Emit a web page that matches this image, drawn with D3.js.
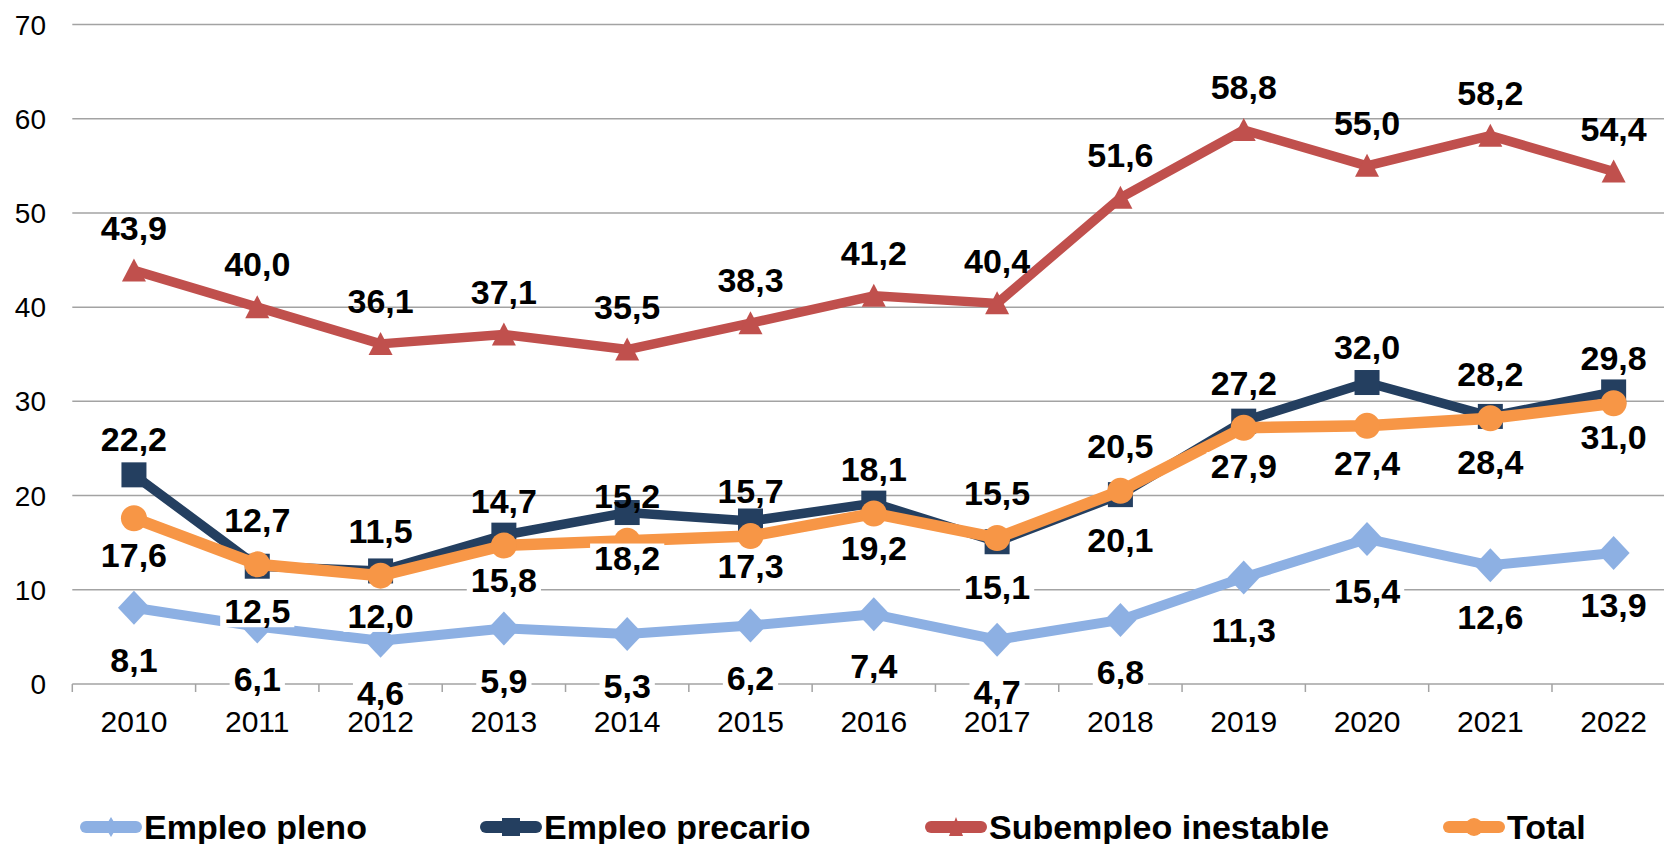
<!DOCTYPE html>
<html>
<head>
<meta charset="utf-8">
<script src="https://cdn.jsdelivr.net/npm/d3@7/dist/d3.min.js"></script>
<style>
  body { margin: 0; background: #fff; }
  svg text { font-family: "Liberation Sans", Arial, Helvetica, sans-serif; }
</style>
</head>
<body>
<div id="chart"></div>
<script>
// DATA
const years = ["2010", "2011", "2012", "2013", "2014", "2015", "2016", "2017", "2018", "2019", "2020", "2021", "2022"];
const empleoPleno = [8.1, 6.1, 4.6, 5.9, 5.3, 6.2, 7.4, 4.7, 6.8, 11.3, 15.4, 12.6, 13.9];
const empleoPrecario = [22.2, 12.5, 12.0, 15.8, 18.2, 17.3, 19.2, 15.1, 20.1, 27.9, 32.0, 28.4, 31.0];
const subempleoInestable = [43.9, 40.0, 36.1, 37.1, 35.5, 38.3, 41.2, 40.4, 51.6, 58.8, 55.0, 58.2, 54.4];
const total = [17.6, 12.7, 11.5, 14.7, 15.2, 15.7, 18.1, 15.5, 20.5, 27.2, 27.4, 28.2, 29.8];
const yTicks = [0, 10, 20, 30, 40, 50, 60, 70];
const seriesNames = ["Empleo pleno", "Empleo precario", "Subempleo inestable", "Total"];

var width = 1664, height = 844;

var svg = d3.select("#chart")
  .append("svg")
  .attr("width", width)
  .attr("height", height);

var x = d3.scalePoint().domain(years).range([72.3, 1675.3]).padding(0.5);
var step = x.step();
var y = d3.scaleLinear().domain([0, 70]).range([684, 24.5]);

// precario label goes above only where it clearly sits over the total line
function precarioUp(i) {
  return empleoPrecario[i] - total[i] > 4;
}

var diamond = "M0,-17L16,0L0,17L-16,0Z";

var series = [
  { name: seriesNames[0], values: empleoPleno, color: "#8DB0E3", width: 10, marker: "diamond",
    dy: function () { return 52; }, box: true },
  { name: seriesNames[1], values: empleoPrecario, color: "#243F60", width: 9.5, marker: "square",
    dy: function (i) { return precarioUp(i) ? -36 : 45; }, box: true },
  { name: seriesNames[2], values: subempleoInestable, color: "#C0504D", width: 9.5, marker: "triangle",
    dy: function () { return -43; }, box: false },
  { name: seriesNames[3], values: total, color: "#F79646", width: 11.5, marker: "circle",
    dy: function (i) { return precarioUp(i) ? 37 : -45; }, box: false },
];

// GRID
svg.append("g")
  .selectAll("line")
  .data(yTicks.filter(function (d) { return d > 0; }))
  .enter()
  .append("line")
  .attr("x1", 72.3)
  .attr("x2", width)
  .attr("y1", function (d) { return y(d); })
  .attr("y2", function (d) { return y(d); })
  .attr("stroke", "#A3A3A3")
  .attr("stroke-width", 1.5);

// X AXIS
var axisG = svg.append("g").attr("transform", `translate(0, ${y(0)})`);
axisG.append("line")
  .attr("x1", 72.3)
  .attr("x2", width)
  .attr("stroke", "#A3A3A3")
  .attr("stroke-width", 1.5);
axisG.selectAll(".tick")
  .data(years)
  .enter()
  .append("line")
  .attr("x1", function (d) { return x(d) - step / 2; })
  .attr("x2", function (d) { return x(d) - step / 2; })
  .attr("y1", 0)
  .attr("y2", 8)
  .attr("stroke", "#A3A3A3")
  .attr("stroke-width", 1.5);

// LINES + MARKERS
var line = d3.line()
  .x(function (d, i) { return x(years[i]); })
  .y(function (d) { return y(d); });

series.forEach(function (s) {
  var g = svg.append("g").attr("class", "series");
  g.append("path")
    .attr("d", line(s.values))
    .attr("fill", "none")
    .attr("stroke", s.color)
    .attr("stroke-width", s.width)
    .attr("stroke-linejoin", "round");

  var m = g.selectAll(".marker")
    .data(s.values)
    .enter()
    .append("g")
    .attr("transform", function (d, i) { return `translate(${x(years[i])}, ${y(d)})`; });

  if (s.marker === "circle") {
    m.append("circle").attr("r", 13).attr("fill", s.color);
  } else if (s.marker === "square") {
    m.append("rect").attr("x", -12.5).attr("y", -12.5).attr("width", 25).attr("height", 25).attr("fill", s.color);
  } else if (s.marker === "triangle") {
    m.append("path").attr("d", "M0,-12L12,11L-12,11Z").attr("fill", s.color);
  } else {
    m.append("path").attr("d", diamond).attr("fill", s.color);
  }
});

// DATA LABELS
var fmt = function (v) { return d3.format(".1f")(v).replace(".", ","); };

series.forEach(function (s) {
  var lg = svg.append("g").attr("class", "labels");
  s.values.forEach(function (v, i) {
    var cx = x(years[i]);
    var cy = y(v) + s.dy(i);
    var one = lg.append("g");
    var t = one.append("text")
      .attr("x", cx)
      .attr("y", cy + 12.2)
      .attr("text-anchor", "middle")
      .attr("font-size", 34)
      .attr("font-weight", "bold")
      .attr("fill", "#000")
      .text(fmt(v));
    if (s.box) {
      var bb = t.node().getBBox();
      one.insert("rect", "text")
        .attr("x", bb.x - 4)
        .attr("y", cy - 14)
        .attr("width", bb.width + 8)
        .attr("height", 30)
        .attr("fill", "#fff");
    }
  });
});

// TICK LABELS
svg.append("g")
  .selectAll("text")
  .data(years)
  .enter()
  .append("text")
  .attr("x", function (d) { return x(d); })
  .attr("y", 731.5)
  .attr("text-anchor", "middle")
  .attr("font-size", 30)
  .attr("fill", "#000")
  .text(function (d) { return d; });

svg.append("g")
  .selectAll("text")
  .data(yTicks)
  .enter()
  .append("text")
  .attr("x", 46)
  .attr("y", function (d) { return y(d) + 10; })
  .attr("text-anchor", "end")
  .attr("font-size", 28)
  .attr("fill", "#000")
  .text(function (d) { return d; });

// LEGEND
var legendX = [80, 480, 925, 1443];
var legend = svg.append("g").attr("class", "legend");
series.forEach(function (s, i) {
  var lx = legendX[i];
  var item = legend.append("g").attr("transform", `translate(${lx}, 827)`);
  item.append("line")
    .attr("x1", 6)
    .attr("x2", 56)
    .attr("stroke", s.color)
    .attr("stroke-width", 12)
    .attr("stroke-linecap", "round");
  var mk = item.append("g").attr("transform", "translate(31, 0)");
  if (s.marker === "circle") {
    mk.append("circle").attr("r", 9).attr("fill", s.color);
  } else if (s.marker === "square") {
    mk.append("rect").attr("x", -9).attr("y", -9).attr("width", 18).attr("height", 18).attr("fill", s.color);
  } else if (s.marker === "triangle") {
    mk.append("path").attr("d", "M0,-10L7,9L-7,9Z").attr("fill", s.color);
  } else {
    mk.append("path").attr("d", "M0,-10L6,0L0,10L-6,0Z").attr("fill", s.color);
  }
  item.append("text")
    .attr("x", 64)
    .attr("y", 11.5)
    .attr("font-size", 34)
    .attr("font-weight", "bold")
    .attr("fill", "#000")
    .text(s.name);
});
</script>
</body>
</html>
